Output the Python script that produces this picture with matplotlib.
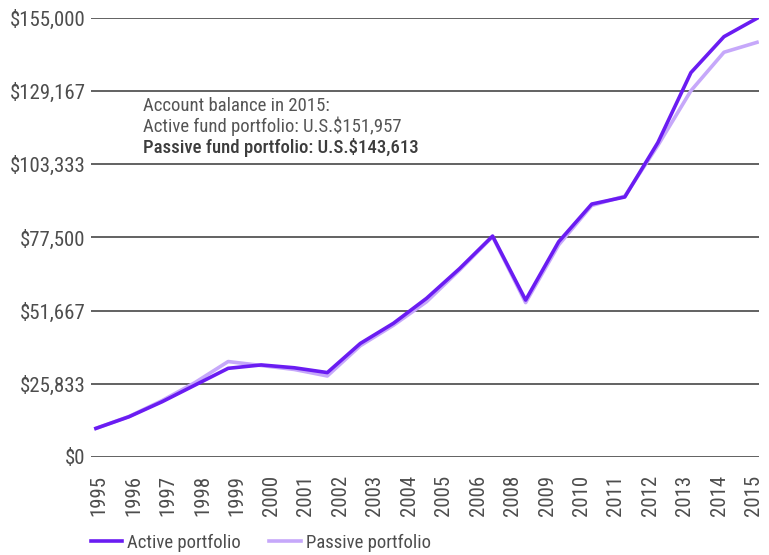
import matplotlib.pyplot as plt
import numpy as np

# labels in the source skip 2007, but there are 21 points on each line
years = ['1995', '1996', '1997', '1998', '1999', '2000', '2001', '2002', '2003', '2004',
         '2005', '2006', '2008', '2009', '2010', '2011', '2012', '2013', '2014', '2015']
active = [10100, 14200, 19500, 25400, 31300, 32500, 31500, 29800, 40100, 47200,
          56000, 66500, 78000, 55400, 76000, 89300, 91800, 111000, 135700, 148400, 154900]
passive = [10100, 14300, 19900, 26300, 33700, 32300, 30900, 28600, 39300, 46500,
           54800, 66000, 77800, 54500, 74900, 88800, 92100, 110000, 129300, 142900, 146400]
ytick_vals = [0, 25833, 51667, 77500, 103333, 129167, 155000]
ytick_labels = ['$0', '$25,833', '$51,667', '$77,500', '$103,333', '$129,167', '$155,000']
note = ['Account balance in 2015:',
        'Active fund portfolio: U.S.$151,957',
        'Passive fund portfolio: U.S.$143,613']

plt.rcParams['font.family'] = ['Roboto Condensed', 'DejaVu Sans']
txt = '#4d4d4d'

fig = plt.figure(figsize=(7.69, 5.55), dpi=100)
ax = fig.add_axes([0.1183, 0.1766, 0.8687, 0.791])

x = np.arange(len(active))
ax.plot(x, passive, color='#c6a8fa', lw=2.6, label='Passive portfolio')
ax.plot(x, active, color='#6a1cf2', lw=2.6, label='Active portfolio')

ax.set_ylim(0, 155000)
ax.set_xlim(-0.15, len(active) - 0.94)
ax.set_yticks(ytick_vals)
ax.set_yticklabels(ytick_labels)
# spread the 20 year labels over the full span of 21 points
ax.set_xticks(np.linspace(0.1, len(active) - 1.1, len(years)))
ax.set_xticklabels(years, rotation=90)
ax.tick_params(length=0, labelsize=15, colors=txt)
ax.tick_params(axis='y', pad=4)
ax.tick_params(axis='x', pad=13)
ax.grid(axis='y', color='#555555', lw=1.3)
ax.set_axisbelow(True)
for s in ax.spines.values():
    s.set_visible(False)

for i, line in enumerate(note):
    ax.text(0.078, 0.80 - i * 0.047, line, transform=ax.transAxes, fontsize=13.5,
            color='#3d3d3d' if i == 2 else '#555555',
            fontweight='medium' if i == 2 else 'normal', va='center')

h, l = ax.get_legend_handles_labels()
fig.legend(h[::-1], l[::-1], loc='center left', bbox_to_anchor=(0.1055, 0.022), ncol=2,
           frameon=False, fontsize=13.5, handlelength=1.7, handletextpad=0.27,
           columnspacing=1.5, borderpad=0, labelcolor=txt)

plt.savefig('out.png', dpi=100)
